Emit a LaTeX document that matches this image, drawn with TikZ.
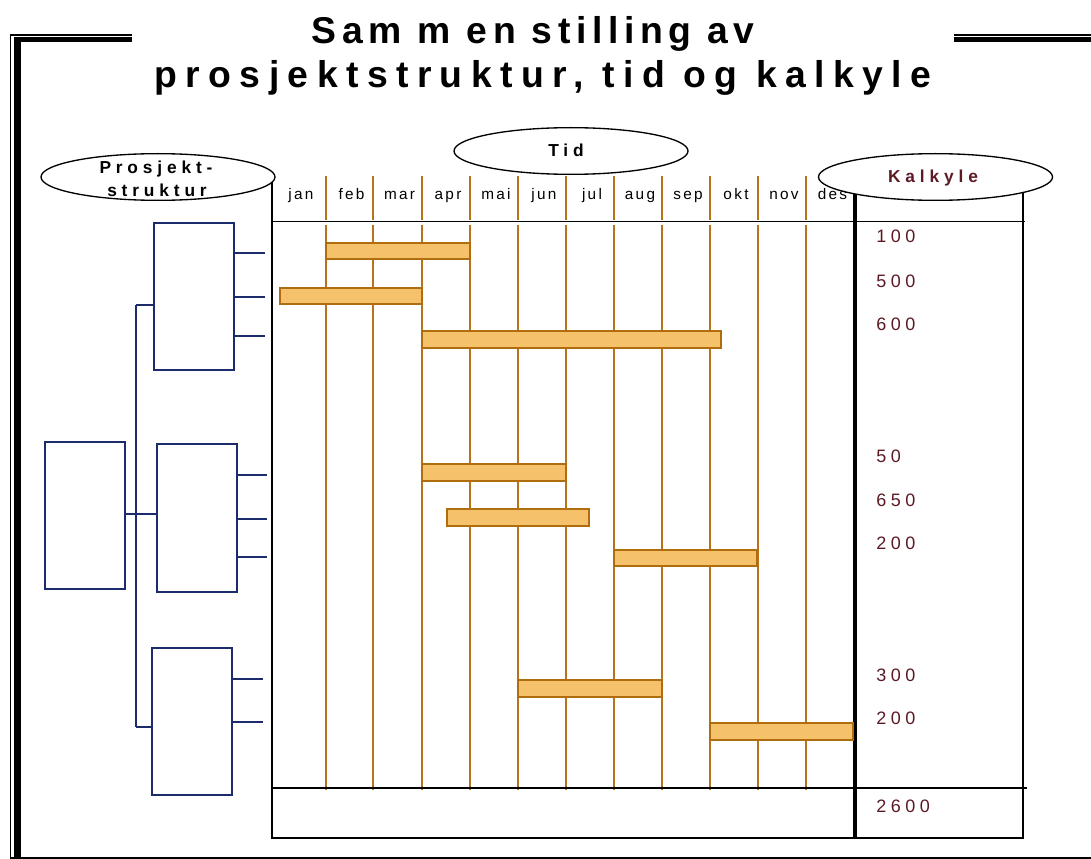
\documentclass[tikz,border=0pt]{standalone}
\usepackage{fontspec}
\setmainfont{Liberation Sans}
\usetikzlibrary{shapes.geometric}
\newfontfamily\ftitleA[LetterSpace=15]{Liberation Sans}
\newfontfamily\ftitleB[LetterSpace=22.5]{Liberation Sans}
\newfontfamily\flabel[LetterSpace=28]{Liberation Sans}
\newfontfamily\fmonth[LetterSpace=15]{Liberation Sans}
\newfontfamily\fnum[LetterSpace=25]{Liberation Sans}
\definecolor{navy}{HTML}{1B2B6B}
\definecolor{mline}{HTML}{B8731A}
\definecolor{barfill}{HTML}{F5C26B}
\definecolor{bardraw}{HTML}{B06D0E}
\definecolor{maroon}{HTML}{5C1A24}
\tikzset{
  monthline/.style={draw=mline, line width=1.6pt},
  tline/.style={draw=black, line width=1.2pt},
  ell/.style={ellipse, draw=black, fill=white, line width=1pt, inner sep=0pt, minimum width=175.5pt, minimum height=35pt},
  lbl/.style={font=\flabel\fontsize{13}{15}\selectfont\bfseries, inner sep=0pt, anchor=base},
  month/.style={font=\fmonth\fontsize{11.5}{13}\selectfont, inner sep=0pt, anchor=base},
  num/.style={font=\fnum\fontsize{13.5}{15}\selectfont, text=maroon, inner sep=0pt, anchor=base west},
  tbox/.style={draw=navy, line width=1.5pt, inner sep=0pt, minimum width=60pt, minimum height=110.5pt},
  tcon/.style={draw=navy, line width=1.5pt},
  bar/.style={draw=bardraw, fill=barfill, line width=1.5pt},
}
\begin{document}
\begin{tikzpicture}[x=0.75pt,y=-0.75pt]
\useasboundingbox (0,0) rectangle (1091,859);
\fill[white] (0,0) rectangle (1091,859);
% outer frame
\draw[line width=1.3pt] (10.5,859) -- (10.5,35) -- (132,35);
\draw[line width=5.25pt] (17.5,37.5) -- (17.5,859);
\draw[line width=3.75pt] (14,40) -- (132,40);
\draw[line width=1.3pt] (954,35) -- (1091,35);
\draw[line width=3.75pt] (954,40) -- (1091,40);
\draw[line width=0.9pt] (10,858) -- (1091,858);
% title
\node[font=\ftitleA\fontsize{28}{30}\selectfont\bfseries, inner sep=0pt, anchor=base] (t1) at (533,44) {Sam m en stilling av};
\node[font=\ftitleB\fontsize{28}{30}\selectfont\bfseries, inner sep=0pt, anchor=base] (t2) at (543,88) {prosjektstruktur, tid og kalkyle};
% month lines
\foreach \x in {326,373,422,470,518,566,614,662,710,758,806}{
  \draw[monthline] (\x,176) -- (\x,220.5);
  \draw[monthline] (\x,225) -- (\x,790);
}
% table lines
\draw[tline] (272,176) -- (272,838) -- (1024,838);
\draw[tline] (272,221.5) -- (1025,221.5);
\draw[tline] (272,788) -- (1027,788);
\draw[draw=black, line width=2.5pt] (855,190) -- (855,838);
\draw[tline] (1023,190) -- (1023,839);
% ellipses
\node[ell] (eps) at (158,177) {};
\node[ell] (etid) at (571,151) {};
\node[ell] (ekalk) at (935.5,177) {};
\node[lbl] (ps1) at (156,174) {Prosjekt-};
\node[lbl] (ps2) at (157,197) {struktur};
\node[lbl] (tid) at (566,157) {Tid};
\node[lbl, text=maroon] (kalk) at (933,183) {Kalkyle};
% months
\foreach \m/\x [count=\i] in {jan/299,feb/349.5,mar/397.5,apr/446,mai/494,jun/542,jul/590,aug/638,sep/686,okt/734,nov/782,des/830.5}{
  \node[month] (m\i) at (\x+2,200) {\m};
}
% bars
\draw[bar] (326,243) rectangle (470,259);
\draw[bar] (280,288) rectangle (422,304);
\draw[bar] (422,331) rectangle (721,348);
\draw[bar] (422,464) rectangle (566,481);
\draw[bar] (447,509) rectangle (589,526);
\draw[bar] (614,550) rectangle (757,566);
\draw[bar] (518,680) rectangle (662,697);
\draw[bar] (710,723) rectangle (853,740);
% numbers
\node[num] (n1) at (876,243) {100};
\node[num] (n2) at (876,287) {500};
\node[num] (n3) at (876,330) {600};
\node[num] (n4) at (876,462) {50};
\node[num] (n5) at (876,506) {650};
\node[num] (n6) at (876,549) {200};
\node[num] (n7) at (876,681) {300};
\node[num] (n8) at (876,724) {200};
\node[num] (n9) at (876,812) {2600};
% structure tree
\node[tbox] (root) at (85,515.5) {};
\node[tbox] (bA) at (194,296.5) {};
\node[tbox] (bB) at (196.5,518) {};
\node[tbox] (bC) at (192,721.5) {};
\coordinate (jtop) at (136,305);
\coordinate (jmid) at (136,514);
\coordinate (jbot) at (136,727);
\draw[tcon] (jtop) -- (jbot);
\draw[tcon] (jtop) -- (bA.west |- jtop);
\draw[tcon] (jbot) -- (bC.west |- jbot);
\draw[tcon] (root.east |- jmid) -- (bB.west |- jmid);
\coordinate (sA1) at (265,253);
\coordinate (sA2) at (265,297);
\coordinate (sA3) at (265,336);
\coordinate (sB1) at (267,475);
\coordinate (sB2) at (267,519);
\coordinate (sB3) at (267,557);
\coordinate (sC1) at (263,679);
\coordinate (sC2) at (263,722);
\foreach \c in {sA1,sA2,sA3}{\draw[tcon] (bA.east |- \c) -- (\c);}
\foreach \c in {sB1,sB2,sB3}{\draw[tcon] (bB.east |- \c) -- (\c);}
\foreach \c in {sC1,sC2}{\draw[tcon] (bC.east |- \c) -- (\c);}
\end{tikzpicture}
\end{document}
